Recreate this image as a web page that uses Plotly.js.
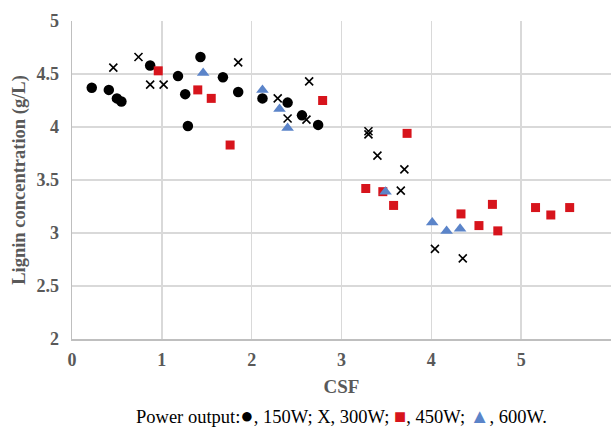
<!DOCTYPE html>
<html>
<head>
<meta charset="utf-8">
<script src="https://cdn.plot.ly/plotly-3.0.1.min.js"></script>
<style>html,body{margin:0;padding:0;background:#fff;}#chart{width:612px;height:427px;}</style>
</head>
<body>
<div id="chart"></div>
<script>
// 150 W (circles)
const csf150 = [0.22, 0.41, 0.50, 0.55, 0.87, 1.18, 1.26, 1.29, 1.43, 1.68, 1.85, 2.12, 2.40, 2.56, 2.74];
const lig150 = [4.37, 4.35, 4.27, 4.24, 4.58, 4.48, 4.31, 4.01, 4.66, 4.47, 4.33, 4.27, 4.23, 4.11, 4.02];
// 300 W (X)
const csf300 = [0.46, 0.74, 0.87, 1.02, 1.85, 2.64, 2.29, 2.40, 2.61, 3.30, 3.30, 3.40, 3.70, 3.66, 4.04, 4.35];
const lig300 = [4.56, 4.66, 4.40, 4.40, 4.61, 4.43, 4.27, 4.08, 4.07, 3.96, 3.93, 3.73, 3.60, 3.40, 2.85, 2.76];
// 450 W (squares)
const csf450 = [0.96, 1.40, 1.55, 1.76, 2.79, 3.73, 3.27, 3.46, 3.58, 4.33, 4.68, 4.53, 4.74, 5.16, 5.33, 5.54];
const lig450 = [4.53, 4.35, 4.27, 3.83, 4.25, 3.94, 3.42, 3.39, 3.26, 3.18, 3.27, 3.07, 3.02, 3.24, 3.17, 3.24];
// 600 W (triangles)
const csf600 = [1.46, 2.12, 2.31, 2.40, 3.49, 4.01, 4.17, 4.32];
const lig600 = [4.51, 4.35, 4.17, 3.99, 3.39, 3.10, 3.02, 3.04];

const xTicks = [0, 1, 2, 3, 4, 5, 6];
const yTicks = [2, 2.5, 3, 3.5, 4, 4.5, 5];

const red = '#d7141c', blue = '#5b84c9';

const traces = [
  {x: csf150, y: lig150, mode: 'markers', type: 'scatter', name: '150W',
   marker: {symbol: 'circle', size: 10.5, color: '#000'}},
  {x: csf300, y: lig300, mode: 'markers', type: 'scatter', name: '300W',
   marker: {symbol: 'x-thin-open', size: 8, color: '#000', line: {color: '#000', width: 1.6}}},
  {x: csf450, y: lig450, mode: 'markers', type: 'scatter', name: '450W',
   marker: {symbol: 'square', size: 9, color: red}},
  {x: csf600, y: lig600, mode: 'markers', type: 'scatter', name: '600W',
   marker: {symbol: 'triangle-up', size: 11, color: blue}}
];

const serif = 'Liberation Serif, Times New Roman, serif';
const tickFont = {family: serif, size: 18, color: '#595959', weight: 'bold'};
const layout = {
  width: 612, height: 427,
  margin: {l: 72, r: 1, t: 21, b: 88},
  paper_bgcolor: '#fff', plot_bgcolor: '#fff',
  showlegend: false,
  xaxis: {
    range: [0, 6], tickvals: xTicks, ticktext: xTicks.map(String),
    showgrid: true, gridcolor: '#d9d9d9', gridwidth: 1.5,
    zeroline: false, showline: true, linecolor: '#bfbfbf', linewidth: 1.5,
    ticks: '', ticklabelstandoff: 4, tickfont: tickFont,
    title: {text: '<b>CSF</b>', font: {family: serif, size: 19, color: '#595959'}, standoff: 10}
  },
  yaxis: {
    range: [2, 5], tickvals: yTicks, ticktext: yTicks.map(String),
    showgrid: true, gridcolor: '#d9d9d9', gridwidth: 1.5,
    zeroline: false, showline: true, linecolor: '#bfbfbf', linewidth: 1.5,
    ticks: '', ticklabelstandoff: 8, tickfont: tickFont,
    title: {text: '<b>Lignin concentration (g/L)</b>', font: {family: serif, size: 18.5, color: '#595959'}, standoff: 6}
  },
  annotations: [{
    xref: 'paper', yref: 'paper', x: 0.50, y: -0.24, xanchor: 'center', yanchor: 'middle',
    showarrow: false,
    font: {family: serif, size: 18.5, color: '#000'},
    text: 'Power output:<span style="font-size:22px">●</span>, 150W; X, 300W; <span style="color:' + red + ';font-size:20px">■</span>, 450W; <span style="color:' + blue + ';font-size:20px">▲</span>, 600W.'
  }]
};

Plotly.newPlot('chart', traces, layout, {displayModeBar: false, staticPlot: true});
</script>
</body>
</html>
